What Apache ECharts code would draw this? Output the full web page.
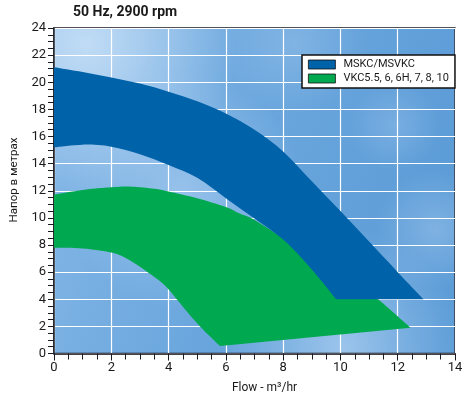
<!DOCTYPE html>
<html>
<head>
<meta charset="utf-8">
<script src="https://cdn.jsdelivr.net/npm/echarts@6/dist/echarts.min.js"></script>
<style>
html,body{margin:0;padding:0;background:#fff;}
#chart{width:467px;height:398px;}
</style>
</head>
<body>
<div id="chart"></div>
<script>
// ---- data ----
const titleText = '50 Hz, 2900 rpm';
const seriesNames = ['MSKC/MSVKC', 'VKC5.5, 6, 6H, 7, 8, 10'];
const xAxisName = 'Flow - m\u00B3/hr';
const yAxisName = 'Напор в метрах';
const xTickRange = [0, 14, 2];   // min, max, interval
const yTickRange = [0, 24, 2];

// MSKC/MSVKC band: upper curve (left to right)
const mskcUpper = [[0,21.1],[1,20.75],[2,20.35],[3,19.9],[4,19.3],[5,18.6],[6,17.7],[7,16.5],[8,14.9],[9,12.7],[10,10.5],[11,8.25],[12,6.0],[12.9,4.0]];
// MSKC/MSVKC band: lower curve (right to left, starting at bottom-left corner of flat base)
const mskcLower = [[9.85,4.0],[9,6.2],[8,8.4],[7,9.95],[6,11.45],[5,12.95],[4,13.9],[3,14.7],[2,15.25],[1,15.4],[0,15.2]];

// VKC band: upper curve (left to right)
const vkcUpper = [[0,11.7],[1,12.05],[2,12.25],[2.7,12.3],[3.5,12.15],[4,11.95],[5,11.45],[6,10.8],[6.5,10.3],[7,9.85],[8,8.5],[9,7.0],[10,5.5],[11,4.4],[11.4,3.85],[12.45,1.9]];
// VKC band: lower curve (right to left, starting at bottom-left corner of sloped base)
const vkcLower = [[5.8,0.55],[5.1,2.0],[4.5,3.45],[3.9,4.95],[3.4,5.8],[3,6.4],[2.5,7.05],[2,7.45],[1,7.75],[0,7.8]];

// ---- styling ----
const BLUE = '#0062a9';
const GREEN = '#00a94f';
const FONT = "Roboto, 'Liberation Sans', sans-serif";
const G = {left:54, right:12, top:28, bottom:44.5};
const W = 467, H = 398;
const pw = W - G.left - G.right, ph = H - G.top - G.bottom;

// smooth open curve through pixel points (Catmull-Rom as cubic Bezier)
function curvePath(p, first) {
  let d = (first ? 'M' : 'L') + p[0][0] + ' ' + p[0][1];
  for (let i = 0; i < p.length - 1; i++) {
    const p0 = p[i - 1] || p[i], p1 = p[i], p2 = p[i + 1], p3 = p[i + 2] || p[i + 1];
    const c1 = [p1[0] + (p2[0] - p0[0]) / 6, p1[1] + (p2[1] - p0[1]) / 6];
    const c2 = [p2[0] - (p3[0] - p1[0]) / 6, p2[1] - (p3[1] - p1[1]) / 6];
    d += 'C' + c1[0] + ' ' + c1[1] + ' ' + c2[0] + ' ' + c2[1] + ' ' + p2[0] + ' ' + p2[1];
  }
  return d;
}

function bandSeries(name, color, upper, lower, z) {
  return {
    name: name,
    type: 'custom',
    coordinateSystem: 'cartesian2d',
    z: z,
    silent: true,
    itemStyle: {color: color},
    data: upper.concat(lower),
    renderItem: function (params, api) {
      if (params.dataIndex !== 0) return null;
      const up = upper.map(p => api.coord(p));
      const lo = lower.map(p => api.coord(p));
      const d = curvePath(up, true) + curvePath(lo, false) + 'Z';
      return {
        type: 'path',
        shape: {pathData: d},
        style: {fill: color}
      };
    }
  };
}

function radial(cx, cy, r, col, a) {
  return {
    type: 'circle', z: -5, silent: true,
    shape: {cx: G.left + cx * pw, cy: G.top + cy * ph, r: r},
    style: {fill: new echarts.graphic.RadialGradient(0.5, 0.5, 0.5, [
      {offset: 0, color: 'rgba(' + col + ',' + a + ')'},
      {offset: 1, color: 'rgba(' + col + ',0)'}
    ])}
  };
}

const chart = echarts.init(document.getElementById('chart'), null, {renderer: 'canvas'});
const axisColor = '#1a1a24';
const option = {
  animation: false,
  title: {
    text: titleText, left: 73, top: 5, padding: 0,
    textStyle: {fontFamily: FONT, fontSize: 14, fontWeight: 'bold', color: '#1a1a1a'}
  },
  legend: {
    orient: 'vertical', left: 302, top: 55,
    padding: [4, 6, 4, 6], itemGap: 3,
    itemWidth: 27, itemHeight: 9,
    backgroundColor: '#ffffff', borderColor: '#111', borderWidth: 1.5, borderRadius: 0,
    data: [
      {name: seriesNames[0], icon: 'rect', itemStyle: {borderColor: '#111', borderWidth: 0.8}},
      {name: seriesNames[1], icon: 'rect', itemStyle: {borderColor: '#111', borderWidth: 0.8}}
    ],
    textStyle: {fontFamily: FONT, fontSize: 11, color: '#1a1a1a', padding: [0, 0, 0, 3]},
    selectedMode: false
  },
  graphic: {
    elements: [
      {
        type: 'rect', z: -6, silent: true,
        shape: {x: G.left, y: G.top, width: pw, height: ph},
        style: {fill: new echarts.graphic.LinearGradient(0, 0, 1, 0.4, [
          {offset: 0, color: '#86b8e7'},
          {offset: 0.55, color: '#6aa6dd'},
          {offset: 1, color: '#5c9cd7'}
        ])}
      },
      {
        type: 'group', z: -5, silent: true,
        clipPath: {type: 'rect', shape: {x: G.left, y: G.top, width: pw, height: ph}},
        children: [
          radial(0.08, 0.05, 150, '196,222,246', 0.95),
          radial(0.32, 0.5, 120, '180,212,243', 0.55),
          radial(0.72, 0.98, 120, '180,212,243', 0.7),
          radial(0.95, 0.62, 60, '170,205,240', 0.45),
          radial(0.6, 0.05, 70, '170,205,240', 0.35),
          radial(0.85, 0.3, 45, '165,202,240', 0.35)
        ]
      },
      {
        type: 'text', silent: true,
        x: 14, y: 180, rotation: Math.PI / 2,
        style: {text: yAxisName, fontFamily: FONT, fontSize: 11.5, fill: '#1a1a1a',
                textAlign: 'center', textVerticalAlign: 'middle'}
      },
      {
        type: 'text', silent: true,
        x: 264.5, y: 388,
        style: {text: xAxisName, fontFamily: FONT, fontSize: 12, fill: '#1a1a1a',
                textAlign: 'center', textVerticalAlign: 'middle'}
      }
    ]
  },
  grid: {
    left: G.left, right: G.right, top: G.top, bottom: G.bottom,
    show: true, backgroundColor: 'transparent', borderColor: axisColor, borderWidth: 1.5
  },
  xAxis: {
    type: 'value', min: xTickRange[0], max: xTickRange[1], interval: xTickRange[2],
    axisLine: {show: true, onZero: false, lineStyle: {color: axisColor, width: 1.5}},
    axisTick: {show: true, length: 7, lineStyle: {color: axisColor, width: 1}},
    minorTick: {show: true, splitNumber: 4, length: 6, lineStyle: {color: axisColor, width: 1}},
    splitLine: {show: true, lineStyle: {color: '#ffffff', width: 1.2}},
    axisLabel: {margin: 8, fontFamily: FONT, fontSize: 13, color: '#1a1a1a'}
  },
  yAxis: {
    type: 'value', min: yTickRange[0], max: yTickRange[1], interval: yTickRange[2],
    axisLine: {show: true, onZero: false, lineStyle: {color: axisColor, width: 1.5}},
    axisTick: {show: true, length: 6, lineStyle: {color: axisColor, width: 1}},
    minorTick: {show: true, splitNumber: 4, length: 6, lineStyle: {color: axisColor, width: 1}},
    splitLine: {show: true, lineStyle: {color: '#ffffff', width: 1.2}},
    axisLabel: {margin: 8, fontFamily: FONT, fontSize: 13, color: '#1a1a1a'}
  },
  series: [
    bandSeries(seriesNames[1], GREEN, vkcUpper, vkcLower, 2),
    bandSeries(seriesNames[0], BLUE, mskcUpper, mskcLower, 3)
  ]
};
chart.setOption(option);
</script>
</body>
</html>
